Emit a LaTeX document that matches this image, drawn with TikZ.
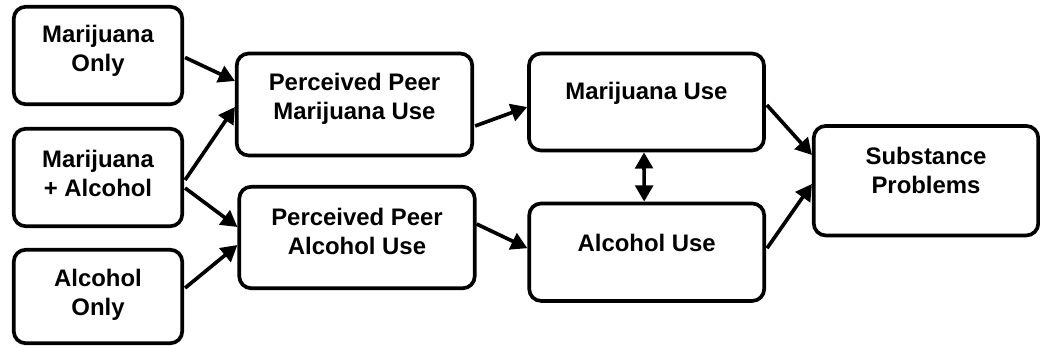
\documentclass[tikz,border=0pt]{standalone}
\usepackage{fontspec}
\setmainfont{Liberation Sans}
\usepackage{tikz}
\usetikzlibrary{calc}
\usetikzlibrary{arrows.meta}

\begin{document}
\begin{tikzpicture}[x=0.025cm, y=-0.025cm, -{Triangle[length=11.5pt, width=12.5pt]}, line width=2.6pt, box/.style 2 args={rectangle, rounded corners=0.3cm, draw, minimum width=#1*0.025cm, minimum height=#2*0.025cm}, every label/.style={align=center, font=\fontsize{17}{20.5}\selectfont\bfseries}]
	\useasboundingbox (0,0) rectangle (1040,347);
	% groups
	\node[box={168.5}{97.5}, label={[yshift=0.12cm]center:Marijuana\\Only}] (mo) at (98,55.5) {};
	\node[box={168.5}{97.5}, label={[yshift=0.1cm]center:Marijuana\\+ Alcohol}] (ma) at (98,177.5) {};
	\node[box={168.5}{93.5}, label={[yshift=0.05cm]center:Alcohol\\Only}] (ao) at (98,296.5) {};
	% perceived peer use
	\node[box={235.5}{102}, label={[yshift=0.15cm]center:Perceived Peer\\Marijuana Use}] (ppm) at (354.5,104.5) {};
	\node[box={235.5}{101.5}, label={[yshift=0.15cm]center:Perceived Peer\\Alcohol Use}] (ppa) at (357,237.5) {};
	% own use
	\node[box={235}{97}, label={[yshift=0.22cm]center:Marijuana Use}] (mu) at (646.5,102) {};
	\node[box={235}{97.5}, label={[yshift=0.22cm]center:Alcohol Use}] (au) at (646.7,252.2) {};
	\node[box={224.5}{109.5}, label={[yshift=0.25cm]center:Substance\\Problems}] (sp) at (926,180.7) {};
	\path ($(mo.east)+(1,2)$) edge ($(ppm.west)+(0,-23.5)$)
	($(ma.east)+(1,2.5)$) edge ($(ppm.west)+(0,2.5)$)
	($(ma.east)+(1,10.5)$) edge ($(ppa.west)+(0,-10.5)$)
	($(ao.east)+(1,-8.5)$) edge ($(ppa.west)+(0,7.5)$)
	($(ppm.east)+(1,21.5)$) edge ($(mu.west)+(0,5)$)
	($(ppa.east)+(0,-13.5)$) edge ($(au.west)+(0,-4)$)
	($(mu.east)+(1,3)$) edge ($(sp.west)+(0,-25.7)$)
	($(au.east)+(1,-4)$) edge ($(sp.west)+(0,3.3)$);
	\draw[{Triangle[length=11.5pt, width=12.5pt]}-{Triangle[length=11.5pt, width=12.5pt]}] ($(mu.south)+(-2.5,0)$) -- ($(au.north)+(-2.5,0)$);
\end{tikzpicture}
\end{document}
